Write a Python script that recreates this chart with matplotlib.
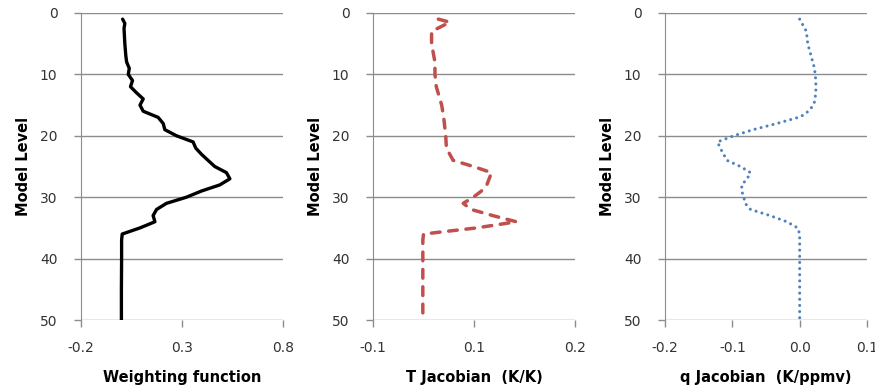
import numpy as np
import matplotlib.pyplot as plt
from matplotlib.ticker import FixedLocator

plt.rcParams['font.family'] = ['DejaVu Sans']

# Weighting function profile
wf_levels = [1, 1.7, 2.5, 5, 7, 8, 9, 10, 11, 12, 13, 14, 15, 16, 17, 18, 19,
             20, 21, 22, 23, 24, 25, 26, 27, 28, 29, 30, 31, 32, 33, 34, 35,
             36, 37, 40, 45, 50]
wf_values = [0.006, 0.017, 0.013, 0.017, 0.022, 0.026, 0.039, 0.034, 0.055,
             0.045, 0.075, 0.108, 0.092, 0.108, 0.182, 0.207, 0.215, 0.273,
             0.355, 0.368, 0.396, 0.429, 0.462, 0.520, 0.537, 0.487, 0.396,
             0.322, 0.223, 0.174, 0.157, 0.166, 0.092, 0.004, 0.001, 0.001,
             0.0, 0.0]

# Temperature Jacobian profile
tj_levels = [1, 1.5, 3, 5, 8, 10, 12, 15, 17, 20, 22, 24, 25, 26, 28, 29, 30,
             31, 32, 33, 34, 35, 35.5, 36, 37, 40, 45, 50]
tj_values = [-0.003, 0.014, -0.013, -0.013, -0.008, -0.008, -0.006, 0.002,
             0.005, 0.008, 0.009, 0.019, 0.049, 0.076, 0.069, 0.061, 0.049,
             0.034, 0.046, 0.078, 0.113, 0.054, 0.014, -0.025, -0.026, -0.026,
             -0.026, -0.026]

# Humidity Jacobian profile
qj_levels = [1, 2, 3, 5, 7, 9, 11, 13, 14.5, 15.5, 16.5, 17, 18, 19, 20, 21,
             22, 23, 24, 25, 26, 27, 28, 29, 30, 31, 32, 33, 34, 35, 36, 40,
             45, 50]
qj_values = [0.0, 0.005, 0.010, 0.012, 0.017, 0.022, 0.024, 0.024, 0.022,
             0.017, 0.008, -0.002, -0.034, -0.069, -0.098, -0.122, -0.118,
             -0.113, -0.108, -0.088, -0.073, -0.078, -0.086, -0.086, -0.083,
             -0.081, -0.073, -0.044, -0.019, -0.003, 0.0, 0.0, 0.0, 0.0]

level_ticks = [0, 10, 20, 30, 40, 50]

panels = [
    dict(x=wf_values, y=wf_levels, xlim=(-0.2, 0.8), ticks=[-0.2, 0.3, 0.8],
         labels=['-0.2', '0.3', '0.8'], xlabel='Weighting function',
         color='black', ls='-', lw=2.4, left=81),
    dict(x=tj_values, y=tj_levels, xlim=(-0.1, 0.2), ticks=[-0.1, 0.05, 0.2],
         labels=['-0.1', '0.1', '0.2'], xlabel='T Jacobian  (K/K)',
         color='#C0504D', ls=(0, (2.5, 2.5)), lw=2.5, left=373),
    dict(x=qj_values, y=qj_levels, xlim=(-0.2, 0.1),
         ticks=[-0.2, -0.1, 0.0, 0.1], labels=['-0.2', '-0.1', '0.0', '0.1'],
         xlabel='q Jacobian  (K/ppmv)', color='#4F81BD', ls=(0, (0.01, 2.0)),
         lw=2.2, left=665),
]

W, H = 875, 389
fig = plt.figure(figsize=(W / 100, H / 100), dpi=100)
grid_col = '#8c8c8c'

for p in panels:
    ax = fig.add_axes([p['left'] / W, 1 - 320 / H, 202 / W, 307 / H])
    ax.plot(p['x'], p['y'], color=p['color'], linestyle=p['ls'],
            linewidth=p['lw'], solid_capstyle='round', dash_capstyle='round',
            solid_joinstyle='round')
    ax.set_xlim(*p['xlim'])
    ax.set_ylim(50, 0)
    ax.xaxis.set_major_locator(FixedLocator(p['ticks']))
    ax.set_xticklabels(p['labels'])
    ax.set_yticks(level_ticks)
    ax.yaxis.grid(True, color=grid_col, linewidth=1)
    for s in ['top', 'right', 'bottom']:
        ax.spines[s].set_visible(False)
    ax.spines['left'].set_color(grid_col)
    ax.tick_params(axis='both', colors=grid_col, labelcolor='#333333',
                   labelsize=10, length=5, width=1)
    ax.tick_params(axis='x', pad=10)
    ax.tick_params(axis='y', pad=12)
    ax.set_ylabel('Model Level', fontsize=10.5, fontweight='bold', labelpad=6)
    ax.set_xlabel(p['xlabel'], fontsize=10.5, fontweight='bold', labelpad=11)

fig.savefig('out.png', dpi=100)
